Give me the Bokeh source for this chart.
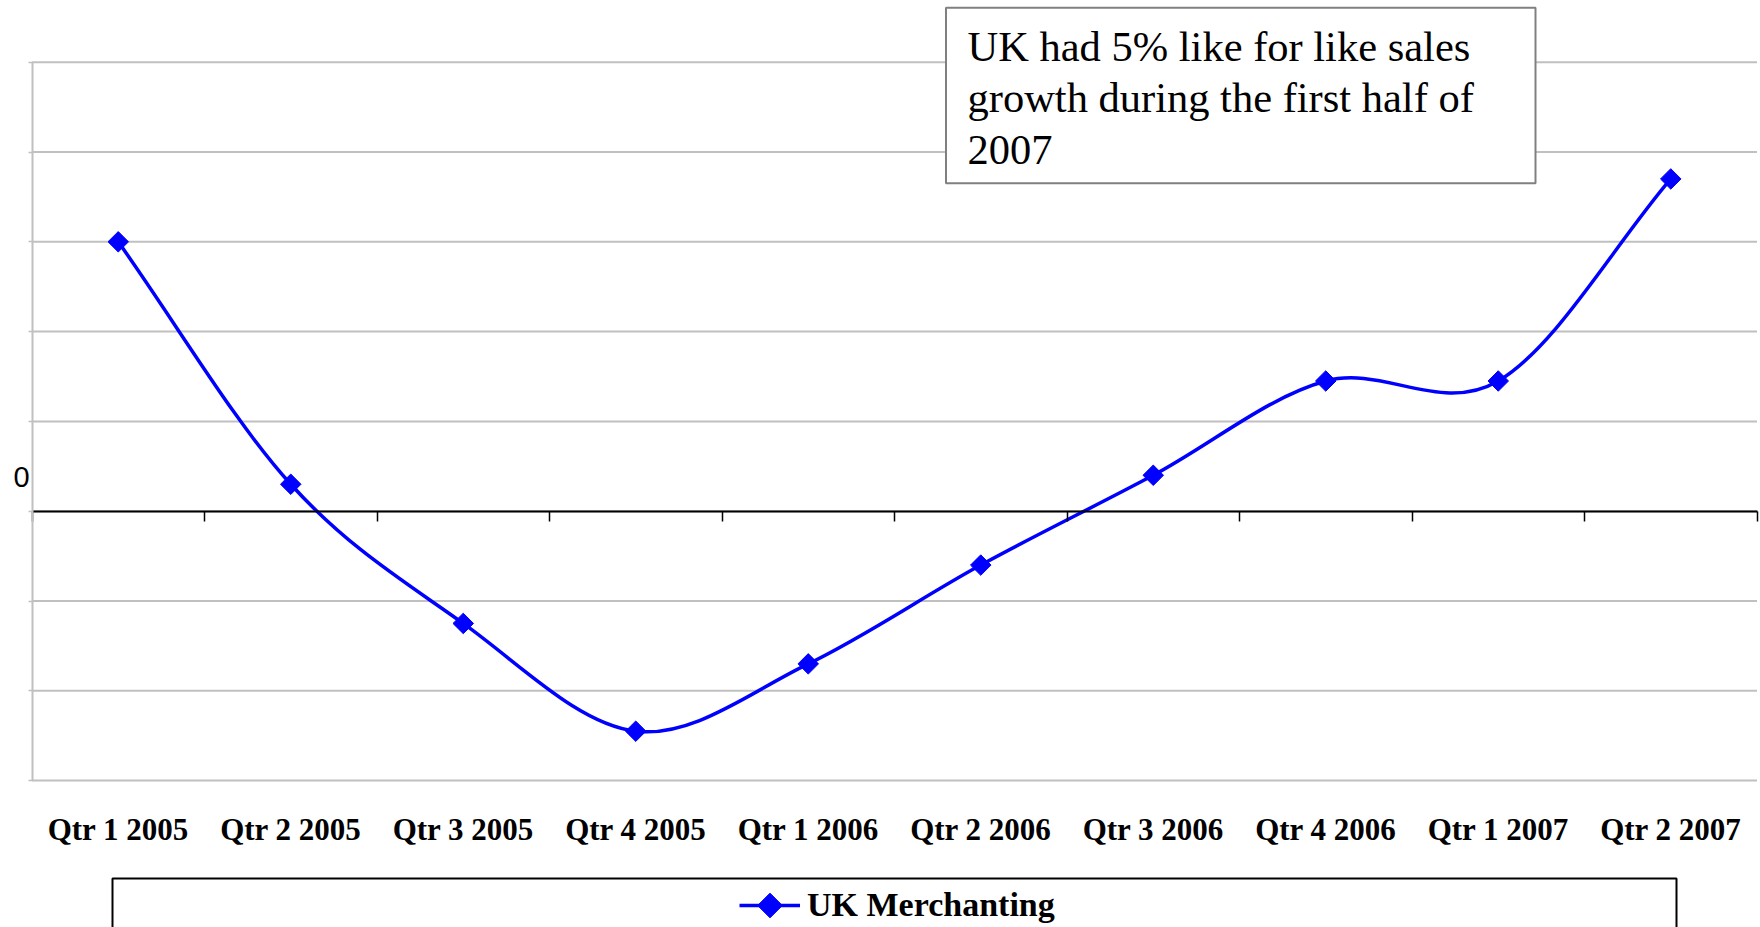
import numpy as np
from bokeh.plotting import figure
from bokeh.models import (Range1d, FixedTicker, LinearAxis, Label, BoxAnnotation,
                          Legend, LegendItem)
from bokeh.embed import file_html
from bokeh.resources import INLINE

# Quarterly like-for-like sales growth (%), UK merchanting
quarters = ["Qtr 1 2005", "Qtr 2 2005", "Qtr 3 2005", "Qtr 4 2005", "Qtr 1 2006",
            "Qtr 2 2006", "Qtr 3 2006", "Qtr 4 2006", "Qtr 1 2007", "Qtr 2 2007"]
uk_merchanting = [6.0, 0.6, -2.5, -4.9, -3.4, -1.2, 0.8, 2.9, 2.9, 7.4]
grid_values = [-6, -4, -2, 0, 2, 4, 6, 8, 10]
series_name = "UK Merchanting"
note_lines = ["UK had 5% like for like sales",
              "growth during the first half of",
              "2007"]

BLUE = "#0000FF"
GRID = "#c0c0c0"

# page geometry (pixels) of the plotting area inside the 1760x927 canvas
W, H = 1760, 927
AREA_LEFT, AREA_RIGHT = 31.5, 1756.5
AREA_TOP, AREA_BOTTOM = 61.7, 780.1
# legend key: sample line start and key centre
KEY_LEFT, KEY_WIDTH, KEY_CY = 739, 61, 905

n = len(quarters)
x = np.arange(n) + 0.5
y = np.array(uk_merchanting, dtype=float)
boundaries = list(range(n + 1))
y_lo, y_hi = grid_values[0], grid_values[-1]

# the frame covers the whole canvas so texts and boxes around the chart stay visible
px_x = (AREA_RIGHT - AREA_LEFT) / n
px_y = (AREA_BOTTOM - AREA_TOP) / (y_hi - y_lo)
x_range = Range1d(-AREA_LEFT / px_x, n + (W - AREA_RIGHT) / px_x)
y_range = Range1d(y_lo - (H - AREA_BOTTOM) / px_y, y_hi + AREA_TOP / px_y)


def canvas_to_data(cx, cy):
    return x_range.start + cx / px_x, y_range.end - cy / px_y


p = figure(width=W, height=H, x_range=x_range, y_range=y_range,
           x_axis_location=None, y_axis_location=None,
           output_backend="svg", toolbar_location=None,
           min_border=0, outline_line_color=None,
           background_fill_color="white", border_fill_color="white")
p.xgrid.visible = False
p.ygrid.visible = False

# horizontal gridlines across the plotting area
p.segment(x0=0, x1=n, y0=grid_values, y1=grid_values,
          line_color=GRID, line_width=2, level="underlay")

# value axis: grey line with short outward ticks, no numbers
value_axis = LinearAxis(fixed_location=0, bounds=(y_lo, y_hi),
                        ticker=FixedTicker(ticks=grid_values, minor_ticks=[]),
                        major_label_overrides={v: "" for v in grid_values},
                        axis_line_color=GRID, axis_line_width=2,
                        major_tick_line_color=GRID, major_tick_line_width=1.5,
                        major_tick_out=4, major_tick_in=0,
                        minor_tick_line_color=None)
p.add_layout(value_axis, "left")

# zero line with category boundary ticks
zero_axis = LinearAxis(fixed_location=0, bounds=(0, n),
                       ticker=FixedTicker(ticks=boundaries, minor_ticks=[]),
                       major_label_overrides={b: "" for b in boundaries},
                       axis_line_color="black", axis_line_width=2,
                       major_tick_line_color="black", major_tick_line_width=1.5,
                       major_tick_out=10, major_tick_in=0,
                       minor_tick_line_color=None)
p.add_layout(zero_axis, "below")

# category labels under the plotting area
cat_axis = LinearAxis(fixed_location=y_lo,
                      ticker=FixedTicker(ticks=list(x), minor_ticks=[]),
                      major_label_overrides={float(v): q for v, q in zip(x, quarters)},
                      axis_line_color=None, major_tick_line_color=None,
                      minor_tick_line_color=None, major_tick_out=0, major_tick_in=0,
                      major_label_standoff=31,
                      major_label_text_font="Liberation Serif",
                      major_label_text_font_style="bold",
                      major_label_text_font_size="31px",
                      major_label_text_color="black")
p.add_layout(cat_axis, "below")

p.add_layout(Label(x=21, y=0, x_units="screen", y_units="data", y_offset=34,
                   text="0", text_font="Liberation Sans", text_font_size="29px",
                   text_align="center", text_baseline="middle", text_color="black"))

# smoothed series: cubic Bezier segments with Catmull-Rom tangents
mx = np.gradient(x)
my = np.gradient(y)
curve = p.bezier(x0=x[:-1], y0=y[:-1], x1=x[1:], y1=y[1:],
                 cx0=x[:-1] + mx[:-1] / 3, cy0=y[:-1] + my[:-1] / 3,
                 cx1=x[1:] - mx[1:] / 3, cy1=y[1:] - my[1:] / 3,
                 line_color=BLUE, line_width=3.5)
points = p.scatter(x, y, marker="square", size=14.5, angle=np.pi / 4,
                   fill_color=BLUE, line_color=BLUE)

# note box (screen units measured up from the canvas bottom)
p.add_layout(BoxAnnotation(left=945.5, right=1535, top=H - 7.3, bottom=H - 182.7,
                           left_units="screen", right_units="screen",
                           top_units="screen", bottom_units="screen",
                           fill_color="white", fill_alpha=1.0,
                           line_color="#808080", line_alpha=1.0, line_width=2))
p.add_layout(Label(x=967, y=H - 22, x_units="screen", y_units="screen",
                   text="\n".join(note_lines), text_font="Liberation Serif",
                   text_font_size="42.5px", text_baseline="top", text_align="left",
                   text_line_height=1.1, text_color="black"))

# legend frame and entry
p.add_layout(BoxAnnotation(left=112, right=1676, top=H - 878, bottom=-20,
                           left_units="screen", right_units="screen",
                           top_units="screen", bottom_units="screen",
                           fill_color=None, line_color="black", line_alpha=1.0,
                           line_width=2))
legend = Legend(items=[LegendItem(label=series_name, renderers=[curve])],
                location=(KEY_LEFT, H - KEY_CY - 20), padding=0, margin=0, spacing=0,
                glyph_width=KEY_WIDTH, glyph_height=40, label_height=40,
                label_standoff=7, border_line_color=None,
                background_fill_alpha=0,
                label_text_font="Liberation Serif", label_text_font_style="bold",
                label_text_font_size="34px", label_text_color="black")
p.add_layout(legend)

# diamond on the legend key (legend glyphs are never rotated)
kx, ky = canvas_to_data(KEY_LEFT + KEY_WIDTH / 2, KEY_CY)
p.scatter([kx], [ky], marker="square", size=17.5, angle=np.pi / 4,
          fill_color=BLUE, line_color=BLUE, level="annotation")

open("out.html", "w").write(file_html(p, INLINE))
